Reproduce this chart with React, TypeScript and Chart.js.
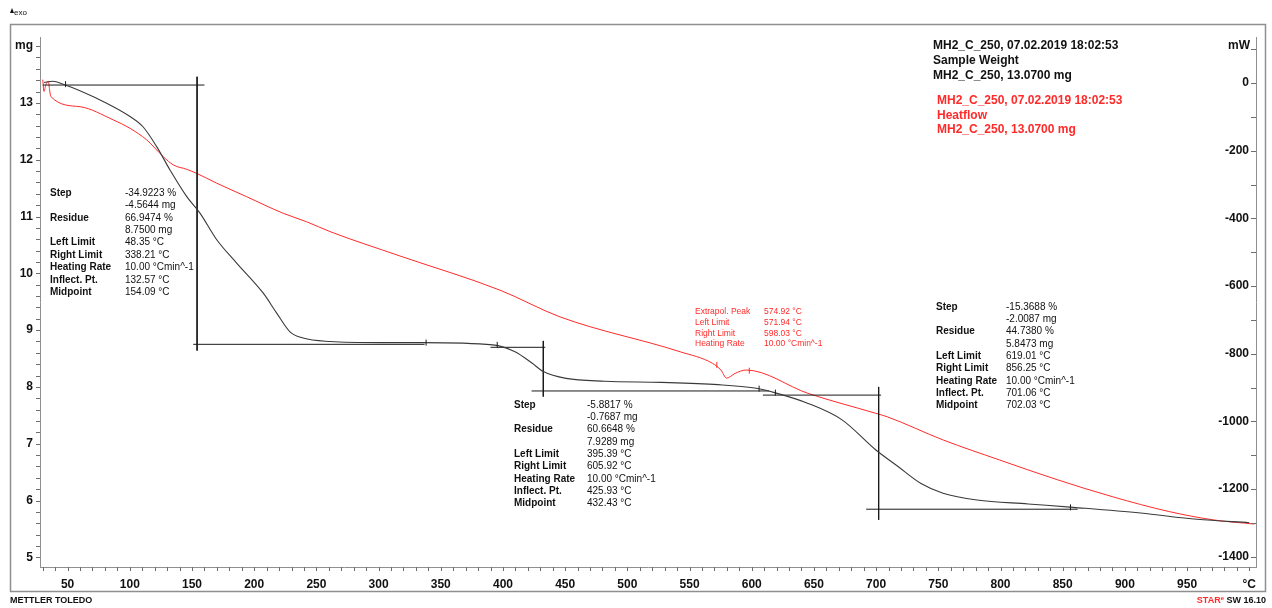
import { useEffect, useRef } from 'react';
import { Chart, registerables } from 'chart.js';

Chart.register(...registerables);

// ---- TGA curve (left axis, mg) ----
const tgaTemp = [31, 38, 46.5, 73.4, 100.2, 110.6, 121.6, 132.3, 145.8, 156.4, 169.9, 185.9, 207.3, 218.1, 228.8, 239.3, 261, 301.5, 335, 391.8, 409.7, 423.3, 432.5, 450.7, 482, 527.6, 572.9, 602.3, 618.3, 645.3, 672.6, 699.8, 717.6, 736.1, 753.8, 781.2, 822.2, 858.4, 912.7, 958, 1000];
const tgaMass = [13.36, 13.38, 13.33, 13.08, 12.76, 12.58, 12.23, 11.82, 11.35, 11.06, 10.59, 10.18, 9.65, 9.30, 8.97, 8.86, 8.80, 8.78, 8.78, 8.74, 8.62, 8.42, 8.27, 8.15, 8.10, 8.08, 8.04, 7.98, 7.90, 7.71, 7.42, 6.89, 6.60, 6.30, 6.13, 6.01, 5.94, 5.88, 5.78, 5.67, 5.61];

// ---- DSC curve (right axis, mW) ----
const dscTemp = [30, 31, 32.5, 34.5, 35.5, 36.5, 60, 86.7, 100.2, 113.6, 127, 135, 145.8, 153.8, 169.9, 194, 223.4, 242.2, 261, 317.2, 397.6, 445.9, 542.4, 568.4, 575.2, 579.8, 586.6, 595.4, 645.3, 699.8, 708.8, 754.1, 799.4, 844.7, 889.7, 935.3, 971.5, 1004];
const dscHeat = [10, -25, -5, 5, -20, -40, -70, -109, -134, -168, -218, -242, -255, -267, -296, -336, -385, -410, -439, -511, -612, -691, -794, -828, -848, -872, -858, -848, -917, -976, -986, -1055, -1114, -1171, -1222, -1266, -1291, -1303];

// ---- evaluation limit markers ----
const tgaLimitTemp = [48.35, 338.21, 395.39, 605.92, 619.01, 856.25];
const tgaLimitMass = [13.33, 8.78, 8.74, 7.97, 7.90, 5.88];
const dscLimitTemp = [571.94, 598.03];
const dscLimitHeat = [-833, -850];

// ---- step evaluation construction lines ----
const stepMidpoint = [154.09, 432.43, 702.03];
const stepUpper = [13.3144, 8.6976, 7.856];
const stepLower = [8.75, 7.9289, 5.8473];
const upperFrom = [30, 390, 609];
const upperTo = [160, 434, 704];
const lowerFrom = [151, 423, 692];
const lowerTo = [337, 614, 862];
const verticalTop = [13.46, 8.81, 8.0];
const verticalBottom = [8.64, 7.83, 5.66];

// ---- axes ----
const xMin = 27.8;
const xMax = 1005.4;
const massMin = 4.83;
const massMax = 14.16;
const heatMin = -1430;
const heatMax = 136;
const xTicks = [50, 100, 150, 200, 250, 300, 350, 400, 450, 500, 550, 600, 650, 700, 750, 800, 850, 900, 950, 1000];
const massTicks = [5, 6, 7, 8, 9, 10, 11, 12, 13, 14];
const heatTicks = [-1400, -1200, -1000, -800, -600, -400, -200, 0];
const xMinorStep = 10;
const massMinorStep = 0.2;
const heatMinorStep = 100;

// ---- texts ----
const resultLabels = ['Step', '', 'Residue', '', 'Left Limit', 'Right Limit', 'Heating Rate', 'Inflect. Pt.', 'Midpoint'];
const step1Values = ['-34.9223 %', '-4.5644 mg', '66.9474 %', '8.7500 mg', '48.35 °C', '338.21 °C', '10.00 °Cmin^-1', '132.57 °C', '154.09 °C'];
const step2Values = ['-5.8817 %', '-0.7687 mg', '60.6648 %', '7.9289 mg', '395.39 °C', '605.92 °C', '10.00 °Cmin^-1', '425.93 °C', '432.43 °C'];
const step3Values = ['-15.3688 %', '-2.0087 mg', '44.7380 %', '5.8473 mg', '619.01 °C', '856.25 °C', '10.00 °Cmin^-1', '701.06 °C', '702.03 °C'];
const peakLabels = ['Extrapol. Peak', 'Left Limit', 'Right Limit', 'Heating Rate'];
const peakValues = ['574.92 °C', '571.94 °C', '598.03 °C', '10.00 °Cmin^-1'];
const tgaLegend = ['MH2_C_250, 07.02.2019 18:02:53', 'Sample Weight', 'MH2_C_250, 13.0700 mg'];
const dscLegend = ['MH2_C_250, 07.02.2019 18:02:53', 'Heatflow', 'MH2_C_250, 13.0700 mg'];

const FONT = "'Liberation Sans', Arial, sans-serif";
const RED = '#ff2a2a';
const AXIS = '#8f8f8f';

const pts = (xs: number[], ys: number[]) => xs.map((x, i) => ({ x, y: ys[i] }));
const setTicks = (vals: number[]) => (s: any) => {
  s.ticks = vals.map((value) => ({ value }));
};

const decor = {
  id: 'decor',
  afterDraw(chart: any) {
    const ctx: CanvasRenderingContext2D = chart.ctx;
    const { left, right, bottom } = chart.chartArea;
    const xs = chart.scales.x;
    const yl = chart.scales.y;
    const yr = chart.scales.y2;
    ctx.save();
    // outer frame
    ctx.strokeStyle = AXIS;
    ctx.lineWidth = 1.5;
    ctx.strokeRect(10.5, 24.5, 1255, 567);

    // minor/major ticks
    ctx.strokeStyle = '#6e6e6e';
    ctx.lineWidth = 1;
    ctx.beginPath();
    for (let v = Math.ceil(xMin / xMinorStep) * xMinorStep; v <= xMax; v += xMinorStep) {
      const px = Math.round(xs.getPixelForValue(v)) + 0.5;
      ctx.moveTo(px, bottom);
      ctx.lineTo(px, bottom + 4);
    }
    for (let k = Math.ceil(massMin / massMinorStep); k * massMinorStep <= massMax; k++) {
      const py = Math.round(yl.getPixelForValue(k * massMinorStep)) + 0.5;
      ctx.moveTo(left - 4, py);
      ctx.lineTo(left, py);
    }
    for (let v = Math.ceil(heatMin / heatMinorStep) * heatMinorStep; v <= heatMax; v += heatMinorStep) {
      const py = Math.round(yr.getPixelForValue(v)) + 0.5;
      ctx.moveTo(right - 5, py);
      ctx.lineTo(right, py);
    }
    ctx.stroke();

    // right axis labels (drawn inside the plot, left of the axis line)
    ctx.fillStyle = '#111';
    ctx.font = `bold 12px ${FONT}`;
    ctx.textAlign = 'right';
    ctx.textBaseline = 'middle';
    yr.ticks.forEach((t: any) => {
      ctx.fillText(String(t.value), right - 7, yr.getPixelForValue(t.value));
    });
    ctx.fillText('mW', right - 6, yl.getPixelForValue(14));

    // legends
    ctx.textAlign = 'left';
    ctx.font = `bold 12px ${FONT}`;
    tgaLegend.forEach((s, i) => ctx.fillText(s, 933, 46 + i * 14.6));
    ctx.fillStyle = RED;
    dscLegend.forEach((s, i) => ctx.fillText(s, 937, 101 + i * 14.2));

    // result blocks
    const block = (labels: string[], values: string[], x: number, vx: number, y: number, dy: number, color: string, lf: string, vf: string) => {
      ctx.fillStyle = color;
      labels.forEach((s, i) => {
        ctx.font = lf;
        if (s) ctx.fillText(s, x, y + i * dy);
        ctx.font = vf;
        ctx.fillText(values[i], vx, y + i * dy);
      });
    };
    const lf = `bold 10px ${FONT}`;
    const vf = `10px ${FONT}`;
    block(resultLabels, step1Values, 50, 125, 193, 12.4, '#111', lf, vf);
    block(resultLabels, step2Values, 514, 587, 405, 12.3, '#111', lf, vf);
    block(resultLabels, step3Values, 936, 1006, 307, 12.3, '#111', lf, vf);
    block(peakLabels, peakValues, 695, 764, 312, 10.6, RED, `8.5px ${FONT}`, `8.5px ${FONT}`);

    // header & footer
    ctx.fillStyle = '#111';
    ctx.beginPath();
    ctx.moveTo(10, 13);
    ctx.lineTo(12, 8);
    ctx.lineTo(14, 13);
    ctx.closePath();
    ctx.fill();
    ctx.font = `8px ${FONT}`;
    ctx.fillText('exo', 14, 13);
    ctx.font = `bold 9px ${FONT}`;
    ctx.fillText('METTLER TOLEDO', 10, 601);
    const tail = ' SW 16.10';
    ctx.textAlign = 'right';
    ctx.fillText(tail, 1266, 601);
    const tailW = ctx.measureText(tail).width;
    ctx.fillStyle = RED;
    ctx.font = `bold 6px ${FONT}`;
    ctx.fillText('e', 1266 - tailW, 598);
    const eW = ctx.measureText('e').width;
    ctx.font = `bold 9px ${FONT}`;
    ctx.fillText('STAR', 1266 - tailW - eW, 601);
    ctx.restore();
  },
};

export default function App() {
  const ref = useRef<HTMLCanvasElement | null>(null);
  useEffect(() => {
    if (!ref.current) return;
    const lineSeg = (i: number, kind: string) => {
      if (kind === 'upper') return pts([upperFrom[i], upperTo[i]], [stepUpper[i], stepUpper[i]]);
      if (kind === 'lower') return pts([lowerFrom[i], lowerTo[i]], [stepLower[i], stepLower[i]]);
      return pts([stepMidpoint[i], stepMidpoint[i]], [verticalTop[i], verticalBottom[i]]);
    };
    const construction: any[] = [];
    [0, 1, 2].forEach((i) => {
      ['upper', 'lower', 'vertical'].forEach((k) => {
        construction.push({
          data: lineSeg(i, k),
          yAxisID: 'y',
          showLine: true,
          borderColor: '#1a1a1a',
          borderWidth: 1,
          pointRadius: 0,
        });
      });
    });
    const zero = (s: any) => {
      s.paddingLeft = 0;
      s.paddingRight = 0;
      s.paddingTop = 0;
      s.paddingBottom = 0;
    };
    const tickFont = { family: FONT, size: 12, weight: 'bold' as const };
    const chart = new Chart(ref.current, {
      type: 'scatter',
      data: {
        datasets: [
          {
            data: pts(tgaLimitTemp, tgaLimitMass),
            yAxisID: 'y',
            showLine: false,
            pointStyle: 'line',
            rotation: 90,
            pointRadius: 3,
            borderColor: '#1a1a1a',
            borderWidth: 1,
          },
          {
            data: pts(dscLimitTemp, dscLimitHeat),
            yAxisID: 'y2',
            showLine: false,
            pointStyle: 'line',
            rotation: 90,
            pointRadius: 3,
            borderColor: RED,
            borderWidth: 1,
          },
          {
            data: pts(tgaTemp, tgaMass),
            yAxisID: 'y',
            showLine: true,
            borderColor: '#3a3a3a',
            borderWidth: 1.1,
            pointRadius: 0,
            cubicInterpolationMode: 'monotone',
          },
          ...construction,
          {
            data: pts(dscTemp, dscHeat),
            yAxisID: 'y2',
            showLine: true,
            borderColor: RED,
            borderWidth: 1,
            pointRadius: 0,
            cubicInterpolationMode: 'monotone',
          },
        ],
      },
      options: {
        animation: false,
        responsive: false,
        events: [],
        layout: { padding: { left: 0, right: 0, top: 37, bottom: 0 } },
        plugins: { legend: { display: false }, tooltip: { enabled: false } },
        scales: {
          x: {
            type: 'linear',
            min: xMin,
            max: xMax,
            afterBuildTicks: setTicks(xTicks),
            afterFit: (s: any) => { s.height = 41; zero(s); },
            grid: { display: false, drawTicks: false },
            border: { display: true, color: AXIS, width: 1 },
            ticks: {
              padding: 10,
              color: '#111',
              font: tickFont,
              maxRotation: 0,
              minRotation: 0,
              autoSkip: false,
              callback: (v: any) => (v === 1000 ? '°C' : String(v)),
            },
          },
          y: {
            type: 'linear',
            position: 'left',
            min: massMin,
            max: massMax,
            afterBuildTicks: setTicks(massTicks),
            afterFit: (s: any) => { s.width = 40; zero(s); },
            grid: { display: false, drawTicks: false },
            border: { display: true, color: AXIS, width: 1 },
            ticks: {
              padding: 7,
              color: '#111',
              font: tickFont,
              autoSkip: false,
              callback: (v: any) => (v === 14 ? 'mg' : String(v)),
            },
          },
          y2: {
            type: 'linear',
            position: 'right',
            min: heatMin,
            max: heatMax,
            afterBuildTicks: setTicks(heatTicks),
            afterFit: (s: any) => { s.width = 16; zero(s); },
            grid: { display: false, drawTicks: false },
            border: { display: true, color: AXIS, width: 1 },
            ticks: { display: false },
          },
        },
      },
      plugins: [decor],
    });
    return () => chart.destroy();
  }, []);
  return (
    <div style={{ position: 'absolute', left: 0, top: 0, width: 1272, height: 608, background: '#fff' }}>
      <canvas ref={ref} width={1272} height={608} style={{ display: 'block' }} />
    </div>
  );
}
